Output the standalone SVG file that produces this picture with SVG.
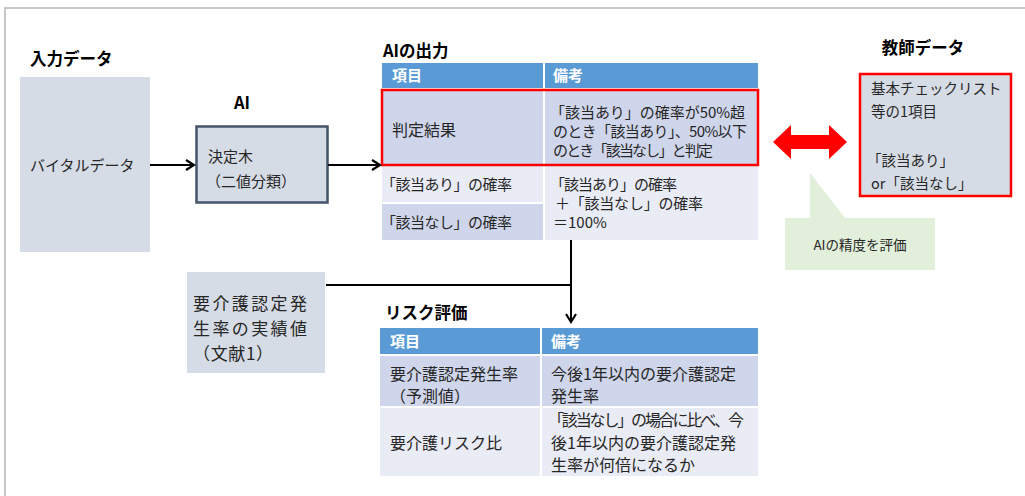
<svg xmlns="http://www.w3.org/2000/svg" width="1025" height="496" viewBox="0 0 1025 496">
<defs>
<style>
text{font-family:"Noto Sans CJK JP","Noto Sans",sans-serif;fill:#262626;font-size:15px}
.ttl{font-weight:bold;font-size:16.5px;fill:#000}
.hd{font-weight:bold;fill:#fff;font-size:15px}
.t16{font-size:16px}
.t18{font-size:17px}
.t14{font-size:14.5px}
.t13{font-size:13.5px}
.ln{stroke:#000;stroke-width:2;fill:none}
</style>
<marker id="ah" viewBox="0 0 12 12" refX="10" refY="6" markerWidth="12" markerHeight="12" markerUnits="userSpaceOnUse" orient="auto">
<path d="M2,1 L10,6 L2,11" fill="none" stroke="#000" stroke-width="2.2"/>
</marker>
</defs>
<rect width="1025" height="496" fill="#fff"/>
<path d="M5,496 V8 H1025" fill="none" stroke="#c8c8c8" stroke-width="2"/>

<g id="input">
<text class="ttl" x="30" y="65">入力データ</text>
<rect x="20" y="77" width="130" height="175" fill="#d6dce5"/>
<text x="30" y="171">バイタルデータ</text>
</g>

<g id="ai">
<text class="ttl" x="234" y="109">AI</text>
<rect x="196.5" y="126.5" width="131" height="76" fill="#d6dce5" stroke="#44546a" stroke-width="2.5"/>
<text x="208" y="162">決定木</text>
<text x="206" y="187">（二値分類）</text>
</g>

<g id="ai-output">
<text class="ttl" x="383" y="57">AIの出力</text>
<rect x="382" y="63" width="376" height="25" fill="#5b9bd5"/>
<line x1="544" y1="63" x2="544" y2="240" stroke="#fff" stroke-width="2"/>
<rect x="382" y="90" width="161" height="74" fill="#cfd5ea"/>
<rect x="545" y="90" width="213" height="74" fill="#cfd5ea"/>
<rect x="382" y="166" width="161" height="36" fill="#e9ebf5"/>
<rect x="382" y="204" width="161" height="36" fill="#cfd5ea"/>
<rect x="545" y="166" width="213" height="74" fill="#e9ebf5"/>
<text class="hd" x="392" y="81">項目</text>
<text class="hd" x="553" y="81">備考</text>
<text class="t16" x="392" y="136">判定結果</text>
<text x="550" y="118" textLength="195" lengthAdjust="spacing">「該当あり」の確率が50%超</text>
<text x="553" y="137" textLength="194" lengthAdjust="spacing">のとき「該当あり」、50%以下</text>
<text x="553" y="156" textLength="160" lengthAdjust="spacing">のとき「該当なし」と判定</text>
<text x="381" y="190" textLength="131" lengthAdjust="spacing">「該当あり」の確率</text>
<text x="381" y="228" textLength="131" lengthAdjust="spacing">「該当なし」の確率</text>
<text x="550" y="190" textLength="127" lengthAdjust="spacing">「該当あり」の確率</text>
<text x="555" y="209" textLength="148" lengthAdjust="spacing">＋「該当なし」の確率</text>
<text x="553" y="228">＝100%</text>
<rect x="382" y="90" width="376" height="75" fill="none" stroke="#ff0000" stroke-width="2.5"/>
</g>

<g id="teacher">
<text class="ttl" x="923" y="54" text-anchor="middle">教師データ</text>
<rect x="860" y="74" width="151" height="122" fill="#d6dce5" stroke="#ff0000" stroke-width="2.5"/>
<text class="t14" x="871" y="94">基本チェックリスト</text>
<text class="t14" x="871" y="117">等の1項目</text>
<text class="t14" x="867" y="166">「該当あり」</text>
<text class="t14" x="871" y="189">or「該当なし」</text>
</g>

<g id="callout">
<path d="M785,218 H810 V173 L845,218 H935 V270 H785 Z" fill="#e2efda"/>
<text class="t13" x="860" y="250" text-anchor="middle">AIの精度を評価</text>
</g>

<g id="actual">
<rect x="187" y="272" width="138" height="101" fill="#d6dce5"/>
<text class="t18" x="193" y="310" textLength="114" lengthAdjust="spacing">要介護認定発</text>
<text class="t18" x="193" y="335" textLength="114" lengthAdjust="spacing">生率の実績値</text>
<text class="t18" x="193" y="360" textLength="80" lengthAdjust="spacing">（文献1）</text>
</g>

<g id="risk">
<text class="ttl" x="385" y="319">リスク評価</text>
<rect x="380" y="328" width="378" height="26" fill="#5b9bd5"/>
<line x1="541" y1="328" x2="541" y2="476" stroke="#fff" stroke-width="2"/>
<rect x="380" y="356" width="160" height="50" fill="#cfd5ea"/>
<rect x="542" y="356" width="216" height="50" fill="#cfd5ea"/>
<rect x="380" y="408" width="160" height="68" fill="#e9ebf5"/>
<rect x="542" y="408" width="216" height="68" fill="#e9ebf5"/>
<text class="hd" x="390" y="347">項目</text>
<text class="hd" x="551" y="347">備考</text>
<text class="t16" x="390" y="380">要介護認定発生率</text>
<text class="t16" x="390" y="402">（予測値）</text>
<text class="t16" x="551" y="380">今後1年以内の要介護認定</text>
<text class="t16" x="551" y="402">発生率</text>
<text class="t16" x="390" y="449">要介護リスク比</text>
<text class="t16" x="548" y="426" textLength="196" lengthAdjust="spacing">「該当なし」の場合に比べ、今</text>
<text class="t16" x="551" y="449">後1年以内の要介護認定発</text>
<text class="t16" x="551" y="471">生率が何倍になるか</text>
</g>

<g id="connectors">
<line class="ln" x1="150" y1="165" x2="194" y2="165" marker-end="url(#ah)"/>
<line class="ln" x1="328" y1="165" x2="380" y2="165" marker-end="url(#ah)"/>
<line class="ln" x1="571" y1="240" x2="571" y2="322" marker-end="url(#ah)"/>
<line class="ln" x1="326" y1="285" x2="571" y2="285"/>
<path d="M773,142 L791,125 V135 H829 V125 L847,142 L829,159 V149 H791 V159 Z" fill="#ff0000"/>
</g>
</svg>
